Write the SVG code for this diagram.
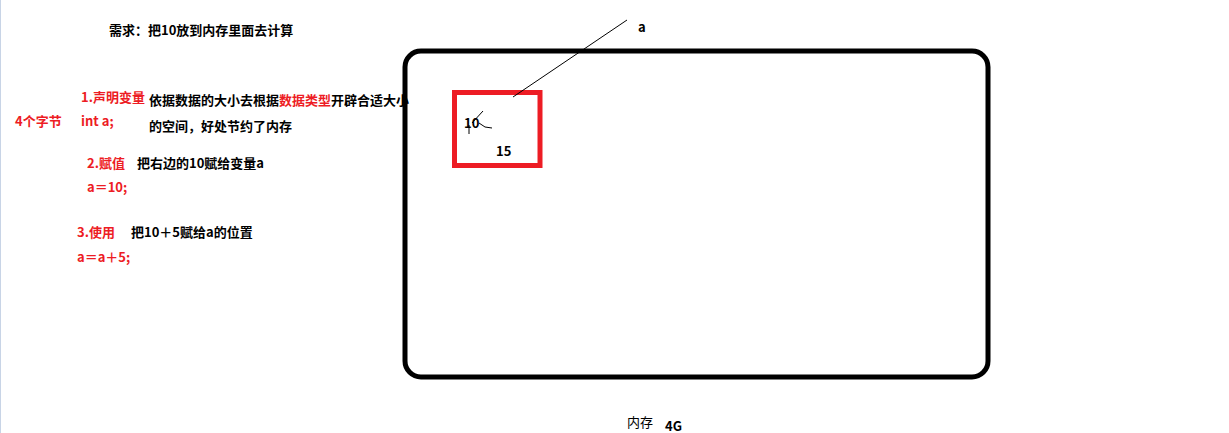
<svg xmlns="http://www.w3.org/2000/svg" width="1229" height="433" viewBox="0 0 1229 433">
<style>
text{font-family:"Noto Sans CJK SC","Noto Sans",sans-serif;font-size:13px;font-weight:bold;fill:#000}
.r{fill:#ed1c24}
.thin{stroke:#000;stroke-width:1;fill:none}
</style>
<rect x="0" y="0" width="1229" height="433" fill="#fff"/>
<line x1="0.5" y1="0" x2="0.5" y2="433" stroke="#c8d4e6" stroke-width="1"/>
<g id="title"><text x="109" y="35">需求：把10放到内存里面去计算</text></g>
<g id="step1">
<text class="r" x="81" y="102">1.声明变量</text>
<text class="r" x="81" y="126">int a;</text>
<text class="r" x="15" y="126">4个字节</text>
<text x="149" y="105">依据数据的大小去根据<tspan class="r">数据类型</tspan>开辟合适大小</text>
<text x="149" y="131">的空间，好处节约了内存</text>
</g>
<g id="step2">
<text class="r" x="87" y="168">2.赋值</text>
<text x="137" y="168">把右边的10赋给变量a</text>
<text class="r" x="87" y="192">a＝10;</text>
</g>
<g id="step3">
<text class="r" x="77" y="237">3.使用</text>
<text x="131" y="237">把10＋5赋给a的位置</text>
<text class="r" x="77" y="262">a＝a＋5;</text>
</g>
<g id="memory">
<rect x="405" y="51" width="583" height="326" rx="16" ry="16" fill="none" stroke="#000" stroke-width="5"/>
<text x="627" y="427" style="font-weight:normal">内存</text>
<text x="665" y="431">4G</text>
</g>
<g id="var-a">
<rect x="454.5" y="92.5" width="85.5" height="73" fill="none" stroke="#ed1c24" stroke-width="5"/>
<text x="464" y="128">10</text>
<text x="496" y="156">15</text>
<path class="thin" d="M483 111 L472 123 M469 125 L469 134 M479 123 L485 127 L492 128"/>
</g>
<g id="label-a"><text x="638" y="32">a</text></g>
<g id="connectors">
<line class="thin" x1="627" y1="20" x2="513" y2="97"/>
</g>
</svg>
